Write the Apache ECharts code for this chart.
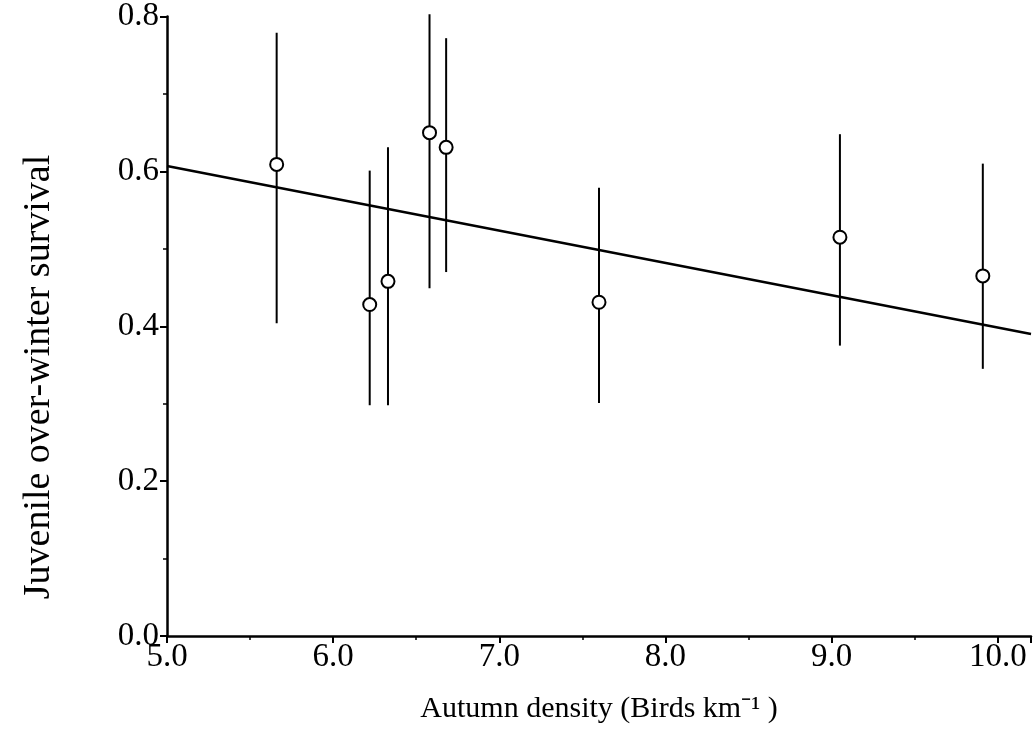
<!DOCTYPE html>
<html>
<head>
<meta charset="utf-8">
<script src="https://cdn.jsdelivr.net/npm/echarts@6/dist/echarts.min.js"></script>
<style>
html,body{margin:0;padding:0;background:#fff;}
#chart{width:1034px;height:744px;}
</style>
</head>
<body>
<div id="chart"></div>
<script>
// Autumn density (birds per km)
const density = [5.66, 6.22, 6.33, 6.58, 6.68, 7.60, 9.05, 9.91];
// Juvenile over-winter survival estimates
const survival = [0.609, 0.428, 0.458, 0.650, 0.631, 0.431, 0.515, 0.465];
const lowerCI = [0.404, 0.298, 0.298, 0.449, 0.470, 0.301, 0.375, 0.345];
const upperCI = [0.779, 0.601, 0.631, 0.803, 0.772, 0.579, 0.648, 0.610];
// Fitted regression line endpoints
const fitX = [5.0, 10.2];
const fitY = [0.607, 0.390];

const xTicks = ['5.0','6.0','7.0','8.0','9.0','10.0'];
const yTicks = ['0.0','0.2','0.4','0.6','0.8'];
const xTitle = 'Autumn density (Birds km\u207B\u00B9 )';
const yTitle = 'Juvenile over-winter survival';

const pts = density.map((d,i)=>[d, survival[i]]);
const bars = density.map((d,i)=>[d, lowerCI[i], upperCI[i]]);
const fit = fitX.map((x,i)=>[x, fitY[i]]);

const chart = echarts.init(document.getElementById('chart'), null, {renderer:'canvas'});
const font = 'Liberation Serif';
chart.setOption({
  backgroundColor:'#fff',
  animation:false,
  grid:{left:167, right:0, top:16, bottom:108},
  graphic:[{
    type:'text', x:39, y:377, rotation:Math.PI/2,
    style:{text:yTitle, fontFamily:font, fontSize:38, fill:'#000',
      textAlign:'center', textVerticalAlign:'middle'}
  }],
  xAxis:{
    type:'value', min:5, max:10.2, interval:1,
    name:xTitle,
    nameLocation:'middle', nameGap:58,
    nameTextStyle:{fontFamily:font, fontSize:30, color:'#000'},
    axisLine:{onZero:false, lineStyle:{color:'#000', width:2.5}},
    axisTick:{show:true, inside:false, length:7, lineStyle:{color:'#000', width:2}},
    minorTick:{show:true, splitNumber:2, length:4, lineStyle:{color:'#000', width:1.5}},
    splitLine:{show:false},
    axisLabel:{fontFamily:font, fontSize:33, color:'#000', margin:5,
      formatter:v=>{const i=Math.round(v-5); return (Math.abs(v-Math.round(v))<1e-6 && xTicks[i]) ? xTicks[i] : '';}}
  },
  yAxis:{
    type:'value', min:0, max:0.8, interval:0.2,
    axisLine:{onZero:false, lineStyle:{color:'#000', width:2.5}},
    axisTick:{show:true, inside:false, length:7, lineStyle:{color:'#000', width:2}},
    minorTick:{show:true, splitNumber:2, length:4, lineStyle:{color:'#000', width:1.5}},
    splitLine:{show:false},
    axisLabel:{fontFamily:font, fontSize:33, color:'#000', margin:8,
      formatter:v=>{const i=Math.round(v/0.2); return yTicks[i] || '';}}
  },
  series:[
    {
      type:'line', data:fit, showSymbol:false, symbol:'none',
      lineStyle:{color:'#000', width:2.5}, z:2
    },
    {
      type:'custom', data:bars, z:3,
      renderItem:(params, api)=>{
        const x = api.value(0);
        const lo = api.coord([x, api.value(1)]);
        const hi = api.coord([x, api.value(2)]);
        return {type:'line', shape:{x1:lo[0], y1:lo[1], x2:hi[0], y2:hi[1]},
          style:{stroke:'#000', lineWidth:2}};
      },
      encode:{x:0, y:[1,2]}
    },
    {
      type:'scatter', data:pts, symbol:'circle', symbolSize:13, z:5,
      itemStyle:{color:'#fff', borderColor:'#000', borderWidth:2, opacity:1}
    }
  ]
});
</script>
</body>
</html>
